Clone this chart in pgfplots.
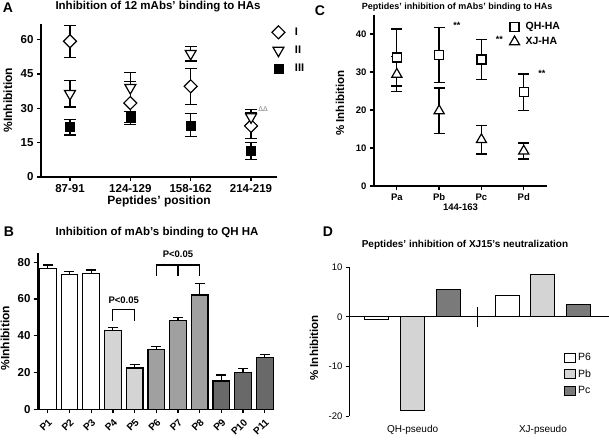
\documentclass[border=0pt]{standalone}
\usepackage{fontspec}
\setmainfont{Liberation Sans}
\usepackage{pgfplots}
\pgfplotsset{compat=1.18}
\definecolor{lg}{RGB}{212,212,212}
\definecolor{mg}{RGB}{160,160,160}
\definecolor{dg}{RGB}{105,105,105}
\definecolor{dpc}{RGB}{122,122,122}
\pgfplotsset{
  gp/.style={scale only axis, anchor=south west, axis lines=left,
    axis line style={-, line width=1.5pt}, tick align=outside,
    major tick length=4pt, tick style={line width=1.3pt, black},
    /pgf/number format/assume math mode=true, clip=false},
  ebar/.style={error bars/.cd, y dir=both, y explicit,
    error bar style={line width=1.3pt, black},
    error mark options={rotate=90, mark size=#1, line width=1.3pt, black}},
  ebar/.default=6pt,
}
\begin{document}
\begin{tikzpicture}
\path[use as bounding box] (0pt,0pt) rectangle (609pt,441pt);
% ---------------- Panel A
\begin{axis}[gp, at={(41pt,264pt)}, width=236pt, height=153.4pt,
  xmin=-0.48, xmax=3.43, ymin=0, ymax=67,
  xtick={0,1,2,3}, xticklabels={87-91,124-129,158-162,214-219},
  ytick={0,15,30,45,60},
  tick label style={font=\bfseries\fontsize{11.5}{12}\selectfont},
  xlabel={Peptides' position}, ylabel={\%Inhibition},
  label style={font=\bfseries\fontsize{12}{13}\selectfont},
  xlabel style={at={(axis description cs:0.5,-0.156)}, anchor=center},
  ylabel style={at={(axis description cs:-0.14,0.5)}, anchor=center},
  title={Inhibition of 12 mAbs' binding to HAs},
  title style={at={(axis description cs:0.496,1.108)}, anchor=center, yshift=-6pt, font=\bfseries\fontsize{11.5}{13}\selectfont},
  legend style={at={(axis description cs:0.965,1.0)}, anchor=north west, draw=none, fill=none,
    font=\bfseries\fontsize{11}{12}\selectfont, row sep=5pt,
    /tikz/every odd column/.style={column sep=8pt}},
  legend cell align=left]
\addplot[only marks, black, mark=square*, mark options={rotate=45, fill=white, line width=1.2pt, mark size=4.6pt}, ebar]
  table[x=x, y=y, y error=e] {
x y e
0 59.3 7.0
1 32.3 9.3
2 39.6 7.8
3 22.3 5.6
};
\addplot[only marks, black, mark=triangle*, mark options={rotate=180, fill=white, line width=1.2pt, mark size=6.3pt}, ebar]
  table[x=x, y=y, y error=e] {
x y e
0 36.4 5.8
1 39.0 6.6
2 53.9 3.2
3 26.2 3.4
};
\addplot[only marks, black, mark=square*, mark options={fill=black, mark size=4.5pt}, ebar]
  table[x=x, y=y, y error=e] {
x y e
0 21.8 3.4
1 26.2 2.5
2 22.6 5.0
3 11.4 3.8
};
\legend{I,II,III}
\node[font=\fontsize{7}{8}\selectfont, text=gray] at (axis cs:3.2,29.7) {ΔΔ};
\end{axis}
% ---------------- Panel C
\begin{axis}[gp, at={(374pt,255pt)}, width=173pt, height=171pt,
  xmin=-0.54, xmax=3.55, ymin=0, ymax=45,
  xtick={0,1,2,3}, xticklabels={Pa,Pb,Pc,Pd},
  ytick={0,10,20,30,40},
  tick label style={font=\bfseries\fontsize{9.5}{11}\selectfont},
  xlabel={144-163}, ylabel={\% Inhibition},
  xlabel style={at={(axis description cs:0.5,-0.123)}, anchor=center, font=\bfseries\fontsize{9.5}{11}\selectfont},
  ylabel style={at={(axis description cs:-0.197,0.485)}, anchor=center, font=\bfseries\fontsize{11.5}{13}\selectfont},
  title={Peptides' inhibition of mAbs' binding to HAs},
  title style={at={(axis description cs:0.48,1.044)}, anchor=center, yshift=-6pt, font=\bfseries\fontsize{9}{11}\selectfont},
  legend style={at={(axis description cs:0.765,0.98)}, anchor=north west, draw=none, fill=none,
    font=\bfseries\fontsize{10.5}{12}\selectfont, row sep=2pt,
    /tikz/every odd column/.style={column sep=4pt}},
  legend cell align=left]
\addplot[only marks, black, mark=square*, mark options={fill=white, line width=1.2pt, mark size=4.5pt}, ebar=5.5pt]
  table[x=x, y=y, y error=e] {
x y e
0 33.8 7.5
1 34.5 7.3
2 33.3 5.2
3 24.7 4.8
};
\addplot[only marks, black, mark=triangle*, mark options={fill=white, line width=1.2pt, mark size=5.8pt}, ebar=5.5pt]
  table[x=x, y=y, y error=e] {
x y e
0 29.4 4.6
1 19.8 6.0
2 12.2 3.8
3 9.2 2.1
};
\legend{QH-HA,XJ-HA}
\node[anchor=west, font=\bfseries\fontsize{9}{10}\selectfont] at (axis cs:1.25,42.3) {**};
\node[anchor=west, font=\bfseries\fontsize{9}{10}\selectfont] at (axis cs:2.26,38.5) {**};
\node[anchor=west, font=\bfseries\fontsize{9}{10}\selectfont] at (axis cs:3.26,29.6) {**};
\end{axis}
% ---------------- Panel B
\begin{axis}[gp, at={(38pt,31.7pt)}, width=232pt, height=156.6pt,
  xmin=-0.45, xmax=10.24, ymin=0, ymax=85.2,
  xtick={0,...,10}, xticklabels={P1,P2,P3,P4,P5,P6,P7,P8,P9,P10,P11},
  x tick label style={rotate=45, anchor=north east, font=\bfseries\fontsize{10}{11}\selectfont},
  y tick label style={font=\bfseries\fontsize{11.5}{12}\selectfont},
  ytick={0,20,40,60,80},
  ylabel={\%Inhibition},
  ylabel style={at={(axis description cs:-0.142,0.455)}, anchor=center, font=\bfseries\fontsize{12}{13}\selectfont},
  title={Inhibition of mAb’s binding to QH HA},
  title style={at={(axis description cs:0.513,1.126)}, anchor=center, yshift=-6pt, font=\bfseries\fontsize{11.5}{13}\selectfont},
  bstyle/.style={ybar, bar width=16.7pt, bar shift=0pt, draw=black, line width=1.2pt,
    error bars/.cd, y dir=plus, y explicit,
    error bar style={line width=1.2pt, black},
    error mark options={rotate=90, mark size=5pt, line width=1.2pt, black}}]
\addplot[fill=white, bstyle] coordinates {(0,76.7) +- (0,1.8) (1,73.5) +- (0,1.6) (2,74.0) +- (0,1.8)};
\addplot[fill=lg, bstyle] coordinates {(3,42.8) +- (0,1.6) (4,22.5) +- (0,1.8)};
\addplot[fill=mg, bstyle] coordinates {(5,32.5) +- (0,1.6) (6,48.1) +- (0,1.8) (7,62.2) +- (0,6.2)};
\addplot[fill=dg, bstyle] coordinates {(8,15.4) +- (0,3.3) (9,20.1) +- (0,2.0) (10,28.3) +- (0,1.6)};
\draw[line width=1.2pt] (axis cs:3,48.3) -- (axis cs:3,54.4) -- (axis cs:4,54.4) -- (axis cs:4,48.3);
\node[font=\bfseries\fontsize{9.5}{10}\selectfont] at (axis cs:3.5,59.5) {P<0.05};
\draw[line width=1.2pt] (axis cs:5,72.6) -- (axis cs:5,78.5) -- (axis cs:7,78.5) -- (axis cs:7,72.6);
\draw[line width=1.2pt] (axis cs:6,78.5) -- (axis cs:6,72.6);
\node[font=\bfseries\fontsize{9.5}{10}\selectfont] at (axis cs:6,84.3) {P<0.05};
\end{axis}
% ---------------- Panel D
\begin{axis}[scale only axis, anchor=south west, at={(349pt,25pt)}, width=260pt, height=148.7pt,
  axis y line*=left, axis x line*=middle, axis line style={-, line width=1pt},
  xmin=-0.78, xmax=6.5, ymin=-20, ymax=10,
  xtick=\empty, ytick={-20,-10,0,10}, yticklabels={-20,-10,0,10},
  tick align=outside, major tick length=3pt, tick style={line width=0.8pt, black},
  y tick label style={font=\fontsize{9.5}{11}\selectfont},
  ylabel={\% Inhibition},
  ylabel style={at={(axis description cs:-0.135,0.457)}, anchor=center, font=\bfseries\fontsize{11.5}{13}\selectfont},
  title={Peptides' inhibition of XJ15's neutralization},
  title style={at={(axis description cs:0.446,1.15)}, anchor=center, yshift=-6pt, font=\bfseries\fontsize{10}{12}\selectfont},
  clip=false,
  legend style={at={(axis description cs:0.815,0.45)}, anchor=north west, draw=none, fill=none,
    font=\fontsize{10.5}{12}\selectfont, row sep=3.5pt},
  legend cell align=left,
  legend image code/.code={\draw[#1, line width=0.9pt] (0pt,-4.5pt) rectangle (11pt,4.5pt);},
  dbar/.style={ybar, bar width=24pt, bar shift=0pt, draw=black, line width=1pt}]
\addplot[dbar, fill=white] coordinates {(0,-0.6) (3.65,4.4)};
\addplot[dbar, fill=lg] coordinates {(1,-18.8) (4.65,8.6)};
\addplot[dbar, fill=dpc] coordinates {(2,5.6) (5.65,2.5)};
\legend{P6,Pb,Pc}
\draw[line width=1pt] (axis cs:2.82,2) -- (axis cs:2.82,-2);
\node[font=\fontsize{10}{12}\selectfont] at ([yshift=-14pt]axis cs:1,-20) {QH-pseudo};
\node[font=\fontsize{10}{12}\selectfont] at ([yshift=-14pt]axis cs:4.65,-20) {XJ-pseudo};
\end{axis}
% panel letters
\node[font=\bfseries\fontsize{14}{16}\selectfont] at (8pt,433pt) {A};
\node[font=\bfseries\fontsize{14}{16}\selectfont] at (320pt,430pt) {C};
\node[font=\bfseries\fontsize{14}{16}\selectfont] at (9pt,209pt) {B};
\node[font=\bfseries\fontsize{14}{16}\selectfont] at (328pt,209pt) {D};
\end{tikzpicture}
\end{document}
